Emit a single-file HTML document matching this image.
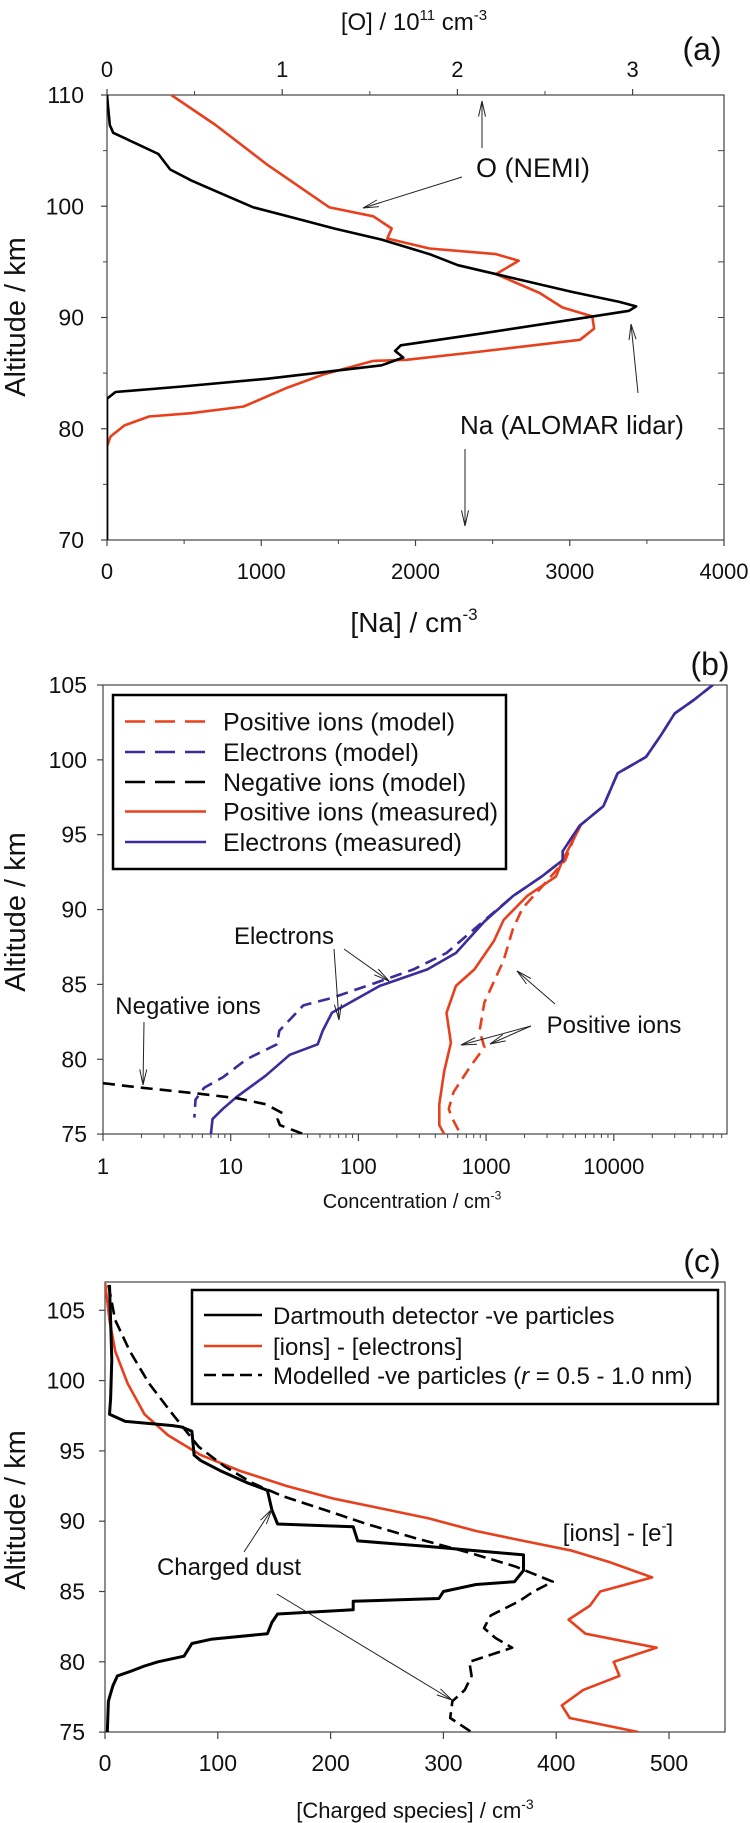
<!DOCTYPE html>
<html><head><meta charset="utf-8"><style>
html,body{margin:0;padding:0;background:#fff;}
svg{display:block;font-family:"Liberation Sans",Arial,sans-serif;}
</style></head><body>
<svg id="fig" width="750" height="1823" viewBox="0 0 750 1823" xmlns="http://www.w3.org/2000/svg">
<defs>
<clipPath id="clipA"><rect x="107" y="95" width="617" height="445"/></clipPath>
<clipPath id="clipB"><rect x="103" y="685" width="624" height="449"/></clipPath>
<clipPath id="clipC"><rect x="105" y="1282" width="620" height="450"/></clipPath>
</defs>
</svg>
<script>
// ---------- Panel (a) data ----------
const aNaAlt = [110,107.3,106.6,105.5,104.7,103.3,102.3,101.0,99.9,98.9,98.0,97.0,95.7,94.7,93.8,92.3,91.4,91.0,90.6,89.8,88.5,87.5,87.0,86.4,85.7,84.5,83.8,83.3,82.7,70];
const aNaVal = [0,18,40,210,333,410,549,764,950,1227,1473,1781,2090,2275,2552,3014,3322,3430,3384,3014,2398,1905,1868,1920,1781,1042,487,55,0,0];
const aOAlt = [110,107.3,103.7,99.9,99.1,98.0,97.1,96.2,95.7,95.1,93.9,92.2,90.9,90.1,89.0,88.0,86.9,86.2,86.1,84.9,83.7,82.0,81.4,81.1,80.3,79.3,78.4,70];
const aOVal = [0.367,0.62,0.918,1.27,1.52,1.625,1.6,1.84,2.22,2.35,2.22,2.47,2.60,2.77,2.78,2.70,2.11,1.71,1.52,1.24,1.03,0.78,0.48,0.24,0.10,0.02,0,0];
const aNaTicks = [0,1000,2000,3000,4000];
const aOTicks = [0,1,2,3];
const aAltTicks = [110,100,90,80,70];

// ---------- Panel (b) data ----------
const bElecMeasAlt = [105,104.0,103.1,101.6,100.2,99.1,96.9,95.6,93.9,93.3,92.2,90.9,89.2,87.1,86.0,84.9,83.1,81.9,81.0,80.3,78.9,77.5,76.7,76.0,75.0];
const bElecMeasVal = [59600,42300,30000,23200,17900,10700,8280,5400,3980,3980,2720,1620,970,580,347,147,62,52.5,48,29,18.8,11.2,8.7,7.2,7.0];
const bElecModAlt = [105,104.0,103.1,101.6,100.2,99.1,96.9,95.6,93.9,93.3,92.2,90.9,88.7,87.1,86.0,85.2,84.1,83.6,81.9,81.0,80.0,78.8,78.1,77.3,76.1];
const bElecModVal = [59600,42300,30000,23200,17900,10700,8280,5400,3980,3980,2720,1620,810,490,270,147,62,37,24,23,13.3,8.7,6.2,5.3,5.2];
const bPosMeasAlt = [95.6,93.3,92.2,90.9,89.3,87.9,86.0,84.9,83.1,81.1,79.2,77.0,75.6,75.0];
const bPosMeasVal = [5500,3980,3520,2090,1370,1150,810,580,490,530,470,430,430,470];
const bPosModAlt = [95,93.3,91.5,90.1,88.7,86.6,83.8,81.9,80.8,79.5,77.8,76.7,76.2,75.0];
const bPosModVal = [5000,4170,2720,1930,1620,1370,970,890,970,750,556,510,532,630];
const bNegModAlt = [78.4,78.1,77.7,77.4,77.0,76.4,76.0,75.6,75.0];
const bNegModVal = [1,2.0,5.65,11.2,18.8,25.4,23.3,24.3,37];
const bXTicks = [1,10,100,1000,10000];
const bXTickLabels = ["1","10","100","1000","10000"];
const bAltTicks = [105,100,95,90,85,80,75];

// ---------- Panel (c) data ----------
const cIonsAlt = [107,104.3,102.1,99.8,97.6,96.1,94.7,93.6,92.5,91.6,90.9,90.2,89.3,88.6,87.9,87.1,86.0,85.0,84.0,83.0,82.0,81.0,80.0,79.0,78.0,76.9,76.0,75.0];
const cIonsVal = [0,4,9,20,35,56,85,119,161,203,245,287,329,371,414,447,485,439,430,411,426,489,451,456,424,405,412,473];
const cModAlt = [106.8,104.3,102.1,99.8,97.6,95.3,93.9,92.7,91.8,90.8,89.8,88.8,87.8,86.8,85.7,85.0,84.3,83.3,82.4,81.7,81.0,80.0,79.0,78.0,77.2,76.0,75.0];
const cModVal = [3,9,22,39,60,83,106,131,157,195,232,275,321,363,397,380,367,342,336,346,361,323,325,319,308,306,325];
const cDartAlt = [106.8,104.3,101.5,98.7,97.6,97.1,96.8,96.7,96.4,94.7,94.3,93.6,92.7,92.2,90.8,89.8,89.6,88.6,88.2,87.9,87.6,86.5,85.7,85.5,85.0,84.5,84.3,83.7,83.4,82.8,82.0,81.6,81.3,80.4,80.0,79.7,79.3,79.0,78.3,77.2,75.0];
const cDartVal = [4,5,6,5,4,18,60,68,77,79,85,102,127,144,148,153,220,224,287,329,371,371,363,329,300,296,220,220,153,148,144,94,77,70,47,35,22,11,7,3,2];
const cXTicks = [0,100,200,300,400,500];
const cAltTicks = [105,100,95,90,85,80,75];

// ---------- scales ----------
const xNa = v => 107 + v/4000*617;
const xO  = v => 107 + v*175.2;
const yA  = a => 95 + (110-a)*11.125;
const xB  = v => 103 + Math.log10(v)*127.7;
const yB  = a => 685 + (105-a)*14.97;
const xC  = v => 105 + v*1.128;
const yC  = a => 1310.3 + (105-a)*14.06;

const NS = "http://www.w3.org/2000/svg";
const svg = document.getElementById('fig');

function mk(tag, name, attrs, parent) {
  const el = document.createElementNS(NS, tag);
  for (const k in attrs) el.setAttribute(k, attrs[k]);
  
  
  (parent || svg).appendChild(el);
  return el;
}
function txt(str, name, x, y, size, anchor, parent, extra) {
  const a = {x:x, y:y, 'font-size':size, 'text-anchor':anchor||'middle', fill:'#111'};
  if (extra) for (const k in extra) a[k] = extra[k];
  const t = mk('text', name, a, parent);
  t.textContent = str;
  return t;
}
function line(name, x1,y1,x2,y2, stroke, w, parent) {
  return mk('line', name, {x1:x1,y1:y1,x2:x2,y2:y2,stroke:stroke||'#333','stroke-width':w||1}, parent);
}
function series(name, alts, vals, xf, yf, color, dash, clip, w) {
  let d = '';
  for (let i=0;i<alts.length;i++) d += (i?'L':'M') + xf(vals[i]).toFixed(1) + ',' + yf(alts[i]).toFixed(1);
  const a = {d:d, fill:'none', stroke:color, 'stroke-width':w||2.6, 'stroke-linejoin':'round', 'clip-path':'url(#'+clip+')'};
  if (dash) a['stroke-dasharray'] = dash;
  return mk('path', name, a);
}
function arrow(name, x1,y1,x2,y2) {
  const g = mk('g', name, {});
  line(name+'-shaft', x1,y1,x2,y2,'#222',1,g);
  const ang = Math.atan2(y2-y1, x2-x1), L = 16, s = 0.22;
  line(name+'-head-1', x2,y2, x2-L*Math.cos(ang-s), y2-L*Math.sin(ang-s),'#222',1,g);
  line(name+'-head-2', x2,y2, x2-L*Math.cos(ang+s), y2-L*Math.sin(ang+s),'#222',1,g);
  return g;
}
function supText(name, x, y, size, pre, sup, post, parent, extra) {
  const a = {x:x,y:y,'font-size':size,'text-anchor':'middle',fill:'#111'};
  if (extra) for (const k in extra) a[k] = extra[k];
  const t = mk('text', name, a, parent);
  const t1 = document.createElementNS(NS,'tspan'); t1.textContent = pre; t.appendChild(t1);
  const t2 = document.createElementNS(NS,'tspan'); t2.setAttribute('font-size', Math.round(size*0.62)); t2.setAttribute('dy', -size*0.42); t2.textContent = sup; t.appendChild(t2);
  if (post) { const t3 = document.createElementNS(NS,'tspan'); t3.setAttribute('dy', size*0.42); t3.textContent = post; t.appendChild(t3); }
  return t;
}

// ================= Panel (a) =================
const gA = mk('g','panel-a',{});
mk('rect','panel-a-frame',{x:107,y:95,width:617,height:445,fill:'none',stroke:'#444','stroke-width':1.2},gA);
aNaTicks.forEach(v => { line('a-x-tick', xNa(v),540,xNa(v),546,'#444',1.2,gA); txt(String(v),'a-x-tick-label',xNa(v),579,22,'middle',gA); });
for (let v=500; v<4000; v+=1000) line('a-x-minor-tick', xNa(v),540,xNa(v),544,'#444',1,gA);
aOTicks.forEach(v => { line('a-top-tick', xO(v),95,xO(v),89,'#444',1.2,gA); txt(String(v),'a-top-tick-label',xO(v),77,22,'middle',gA); });
for (let v=0.5; v<3.5; v+=1) line('a-top-minor-tick', xO(v),95,xO(v),91,'#444',1,gA);
aAltTicks.forEach(a => { line('a-y-tick', 101,yA(a),107,yA(a),'#444',1.2,gA); txt(String(a),'a-y-tick-label',84,yA(a)+8,23,'end',gA); });
for (let a=105; a>70; a-=10) line('a-y-minor-tick', 103,yA(a),107,yA(a),'#444',1,gA);
for (let a=105; a>70; a-=5) line('a-right-tick', 718,yA(a),724,yA(a),'#444',1,gA);
series('a-o-nemi-line', aOAlt, aOVal, xO, yA, '#e8401c', null, 'clipA');
series('a-na-lidar-line', aNaAlt, aNaVal, xNa, yA, '#000', null, 'clipA');
(function(){
  const t = supText('a-top-axis-title', 414, 30, 24, '[O] / 10', '11', ' cm', gA);
  const t4 = document.createElementNS(NS,'tspan'); t4.setAttribute('font-size', 15); t4.setAttribute('dy', -10); t4.textContent='-3'; t.appendChild(t4);
})();
supText('a-x-axis-title', 414, 632, 28, '[Na] / cm', '-3', null, gA);
txt('Altitude / km','a-y-axis-title',0,0,29,'middle',gA,{transform:'translate(25,317) rotate(-90)'});
txt('(a)','a-panel-label',702,60,32,'middle',gA);
txt('O (NEMI)','a-o-annotation',533,177,27,'middle',gA);
txt('Na (ALOMAR lidar)','a-na-annotation',572,434,26,'middle',gA);
arrow('a-o-arrow-curve', 462,177,363,208);
arrow('a-o-arrow-top', 482,148,482,101);
arrow('a-na-arrow-curve', 638,393,631,324);
arrow('a-na-arrow-bottom', 465,449,465,526);

// ================= Panel (b) =================
const gB = mk('g','panel-b',{});
mk('rect','panel-b-frame',{x:103,y:685,width:624,height:449,fill:'none',stroke:'#444','stroke-width':1.2},gB);
bXTicks.forEach((v,i) => { line('b-x-tick', xB(v),1134,xB(v),1141,'#444',1.2,gB); txt(bXTickLabels[i],'b-x-tick-label',xB(v),1174,22,'middle',gB); });
for (let d=1; d<=10000; d*=10) for (let m=2; m<10; m++) { const v=d*m; if (xB(v)<727) line('b-x-minor-tick', xB(v),1134,xB(v),1138,'#444',1,gB); }
bAltTicks.forEach(a => { line('b-y-tick', 97,yB(a),103,yB(a),'#444',1.2,gB); txt(String(a),'b-y-tick-label',87,yB(a)+8,23,'end',gB); });
series('b-positive-model-line', bPosModAlt, bPosModVal, xB, yB, '#e8401c', '12,7', 'clipB');
series('b-positive-measured-line', bPosMeasAlt, bPosMeasVal, xB, yB, '#e8401c', null, 'clipB');
series('b-electrons-model-line', bElecModAlt, bElecModVal, xB, yB, '#3d2a9c', '12,7', 'clipB');
series('b-electrons-measured-line', bElecMeasAlt, bElecMeasVal, xB, yB, '#3d2a9c', null, 'clipB');
series('b-negative-model-line', bNegModAlt, bNegModVal, xB, yB, '#000', '12,7', 'clipB');
const legB = mk('g','b-legend',{},gB);
mk('rect','b-legend-box',{x:113,y:695,width:393,height:174,fill:'#fff',stroke:'#000','stroke-width':2.5},legB);
const bLegNames = ['Positive ions (model)','Electrons (model)','Negative ions (model)','Positive ions (measured)','Electrons (measured)'];
const bLegColors = ['#e8401c','#3d2a9c','#000','#e8401c','#3d2a9c'];
const bLegDash = ['20,10','20,10','20,10',null,null];
const bLegY = [721.5,752,782,811.5,842];
bLegNames.forEach((n,i) => {
  const a = {x1:125,y1:bLegY[i],x2:206,y2:bLegY[i],stroke:bLegColors[i],'stroke-width':2.6};
  if (bLegDash[i]) a['stroke-dasharray']=bLegDash[i];
  mk('line','b-legend-swatch',a,legB);
  txt(n,'b-legend-label',223,bLegY[i]+9,25,'start',legB);
});
txt('(b)','b-panel-label',710,675,32,'middle',gB);
txt('Altitude / km','b-y-axis-title',0,0,29,'middle',gB,{transform:'translate(25,912) rotate(-90)'});
supText('b-x-axis-title', 412, 1208, 20, 'Concentration / cm', '-3', null, gB);
txt('Electrons','b-electrons-annotation',284,944,24,'middle',gB);
arrow('b-electrons-arrow-1', 344,949,389,981);
arrow('b-electrons-arrow-2', 334,949,339,1020);
txt('Negative ions','b-negative-annotation',188,1014,24,'middle',gB);
arrow('b-negative-arrow', 144,1022,143,1085);
txt('Positive ions','b-positive-annotation',614,1033,24,'middle',gB);
arrow('b-positive-arrow-1', 555,1004,517,971);
arrow('b-positive-arrow-2', 531,1026,461,1045);
arrow('b-positive-arrow-3', 531,1026,490,1044);

// ================= Panel (c) =================
const gC = mk('g','panel-c',{});
mk('rect','panel-c-frame',{x:105,y:1282,width:620,height:450,fill:'none',stroke:'#444','stroke-width':1.2},gC);
cXTicks.forEach(v => { line('c-x-tick', xC(v),1732,xC(v),1739,'#444',1.2,gC); txt(String(v),'c-x-tick-label',xC(v),1771,23,'middle',gC); });
cAltTicks.forEach(a => { line('c-y-tick', 99,yC(a),105,yC(a),'#444',1.2,gC); txt(String(a),'c-y-tick-label',85,yC(a)+8,23,'end',gC); });
series('c-ions-minus-electrons-line', cIonsAlt, cIonsVal, xC, yC, '#e8401c', null, 'clipC');
series('c-modelled-particles-line', cModAlt, cModVal, xC, yC, '#000', '12,6', 'clipC');
series('c-dartmouth-line', cDartAlt, cDartVal, xC, yC, '#000', null, 'clipC', 3);
const legC = mk('g','c-legend',{},gC);
mk('rect','c-legend-box',{x:192,y:1290,width:526,height:114,fill:'#fff',stroke:'#000','stroke-width':2.5},legC);
const cLegNames = ['Dartmouth detector -ve particles','[ions] - [electrons]','Modelled -ve particles ('];
const cLegColors = ['#000','#e8401c','#000'];
const cLegDash = [null,null,'12,6'];
const cLegY = [1315,1346,1375];
cLegNames.forEach((n,i) => {
  const a = {x1:204,y1:cLegY[i],x2:262,y2:cLegY[i],stroke:cLegColors[i],'stroke-width':2.6};
  if (cLegDash[i]) a['stroke-dasharray']=cLegDash[i];
  mk('line','c-legend-swatch',a,legC);
  const t = txt(n,'c-legend-label',273,cLegY[i]+9,24,'start',legC);
  if (i===2) {
    const s1 = document.createElementNS(NS,'tspan'); s1.setAttribute('font-style','italic'); s1.textContent='r'; t.appendChild(s1);
    const s2 = document.createElementNS(NS,'tspan'); s2.textContent=' = 0.5 - 1.0 nm)'; t.appendChild(s2);
  }
});
txt('(c)','c-panel-label',702,1272,32,'middle',gC);
txt('Altitude / km','c-y-axis-title',0,0,29,'middle',gC,{transform:'translate(25,1510) rotate(-90)'});
supText('c-x-axis-title', 415, 1818, 22, '[Charged species] / cm', '-3', null, gC);
txt('Charged dust','c-dust-annotation',229,1575,24,'middle',gC);
arrow('c-dust-arrow-1', 244,1552,272,1509);
arrow('c-dust-arrow-2', 277,1594,452,1700);
supText('c-ions-annotation', 618, 1541, 24, '[ions] - [e', '-', ']', gC);
</script>
</body></html>
